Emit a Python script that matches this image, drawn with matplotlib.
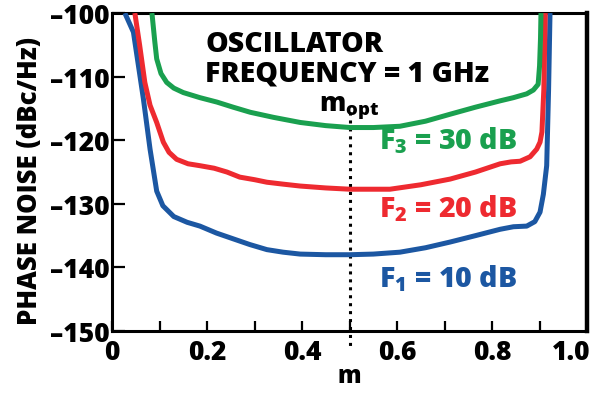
import matplotlib
matplotlib.use("Agg")
import matplotlib.pyplot as plt
from matplotlib.transforms import ScaledTranslation

plt.rcParams['font.family'] = ['Open Sans', 'DejaVu Sans']
plt.rcParams['mathtext.fontset'] = 'custom'
plt.rcParams['mathtext.bf'] = 'Open Sans:weight=800'
plt.rcParams['mathtext.rm'] = 'Open Sans:weight=800'

W = 800

# Data
m_f1 = [0.027, 0.045, 0.066, 0.080, 0.094, 0.107, 0.130, 0.158, 0.185, 0.220, 0.255, 0.290, 0.326, 0.360, 0.396, 0.450, 0.501, 0.550, 0.606, 0.660, 0.712, 0.765, 0.817, 0.845, 0.873, 0.890, 0.901, 0.908, 0.915, 0.919, 0.922]
pn_f1 = [-100.0, -103.0, -113.5, -121.4, -128.0, -130.3, -132.0, -132.9, -133.5, -134.6, -135.5, -136.4, -137.2, -137.6, -137.9, -138.0, -138.0, -137.9, -137.6, -136.9, -136.0, -135.0, -134.0, -133.6, -133.5, -132.8, -131.3, -128.5, -124.0, -112.0, -100.0]

m_f2 = [0.048, 0.058, 0.069, 0.080, 0.094, 0.108, 0.120, 0.136, 0.160, 0.185, 0.215, 0.242, 0.269, 0.300, 0.326, 0.360, 0.396, 0.450, 0.501, 0.585, 0.650, 0.712, 0.765, 0.817, 0.840, 0.859, 0.880, 0.894, 0.901, 0.905, 0.909, 0.912]
pn_f2 = [-100.0, -105.0, -110.9, -114.5, -117.2, -120.3, -121.9, -123.0, -123.7, -124.0, -124.4, -125.0, -125.8, -126.2, -126.6, -126.9, -127.2, -127.5, -127.7, -127.7, -127.0, -126.1, -125.0, -123.7, -123.4, -123.3, -122.6, -121.4, -120.3, -118.7, -112.0, -100.0]

m_f3 = [0.084, 0.090, 0.094, 0.103, 0.115, 0.130, 0.150, 0.185, 0.221, 0.255, 0.291, 0.340, 0.396, 0.450, 0.501, 0.550, 0.606, 0.660, 0.712, 0.765, 0.817, 0.845, 0.873, 0.887, 0.897, 0.900, 0.902, 0.903]
pn_f3 = [-100.0, -104.5, -107.2, -109.5, -110.9, -111.8, -112.5, -113.3, -114.0, -114.8, -115.6, -116.4, -117.2, -117.7, -118.0, -118.0, -117.8, -117.0, -115.9, -114.8, -113.8, -113.3, -112.7, -112.1, -111.2, -108.3, -104.0, -100.0]

series = [
    (m_f1, pn_f1, '#1c57a2', 'F$_\\mathbf{1}$ = 10 dB', -141.6),
    (m_f2, pn_f2, '#ee2a30', 'F$_\\mathbf{2}$ = 20 dB', -130.6),
    (m_f3, pn_f3, '#1aa04f', 'F$_\\mathbf{3}$ = 30 dB', -120.0),
]

x_ticks = [0, 0.2, 0.4, 0.6, 0.8, 1.0]
x_tick_labels = ['0', '0.2', '0.4', '0.6', '0.8', '1.0']
y_ticks = [-150, -140, -130, -120, -110, -100]
y_tick_labels = ['\u2013150', '\u2013140', '\u2013130', '\u2013120', '\u2013110', '\u2013100']
m_opt = 0.5

fig = plt.figure(figsize=(5.96, 4.14), dpi=100)
ax = fig.add_axes([0.188, 0.198, 0.797, 0.768])

for mx, py, col, lab, ylab in series:
    ax.plot(mx, py, color=col, lw=3.6, solid_capstyle='butt', solid_joinstyle='round', zorder=3)

ax.set_xlim(0, 1.0)
ax.set_ylim(-150, -100)

ax.set_xticks(x_ticks)
ax.set_xticklabels(x_tick_labels)
ax.set_xticks([0.1, 0.3, 0.5, 0.7, 0.9], minor=True)
ax.set_yticks(y_ticks)
ax.set_yticklabels(y_tick_labels)

ax.tick_params(axis='both', which='both', direction='in', width=1.6, color='black')
ax.tick_params(axis='x', which='both', length=7, labelsize=19, pad=6)
ax.tick_params(axis='y', which='both', length=9, labelsize=19, pad=2)
for lbl in ax.get_xticklabels() + ax.get_yticklabels():
    lbl.set_fontweight(W)
last = ax.get_xticklabels()[-1]
last.set_horizontalalignment('right')
last.set_transform(last.get_transform() + ScaledTranslation(3 / 100, 0, fig.dpi_scale_trans))

for s in ax.spines.values():
    s.set_linewidth(2.2)
ax.spines['right'].set_linewidth(3.2)

ax.set_xlabel('m', fontsize=17, fontweight=W, labelpad=-2)
ax.set_ylabel('PHASE NOISE (dBc/Hz)', fontsize=18.5, fontweight=W)
ax.yaxis.set_label_coords(-0.146, 0.475)

# dotted m_opt line extending beyond the axes
ax.plot([m_opt, m_opt], [-115.6, -152.4], color='black', lw=2.2, ls=(0, (1.0, 1.6)), clip_on=False, zorder=2)
ax.text(m_opt, -116.9, 'm$_{\\mathbf{opt}}$', ha='center', va='bottom', fontsize=19, fontweight=W)

ax.text(0.196, -107.1, 'OSCILLATOR\nFREQUENCY = 1 GHz', ha='left', va='center', fontsize=20.5,
        fontweight=W, linespacing=1.0)

for mx, py, col, lab, ylab in series:
    ax.text(0.562, ylab, lab, color=col, ha='left', va='center', fontsize=20.5, fontweight=W)

fig.savefig('out.png', dpi=100)
